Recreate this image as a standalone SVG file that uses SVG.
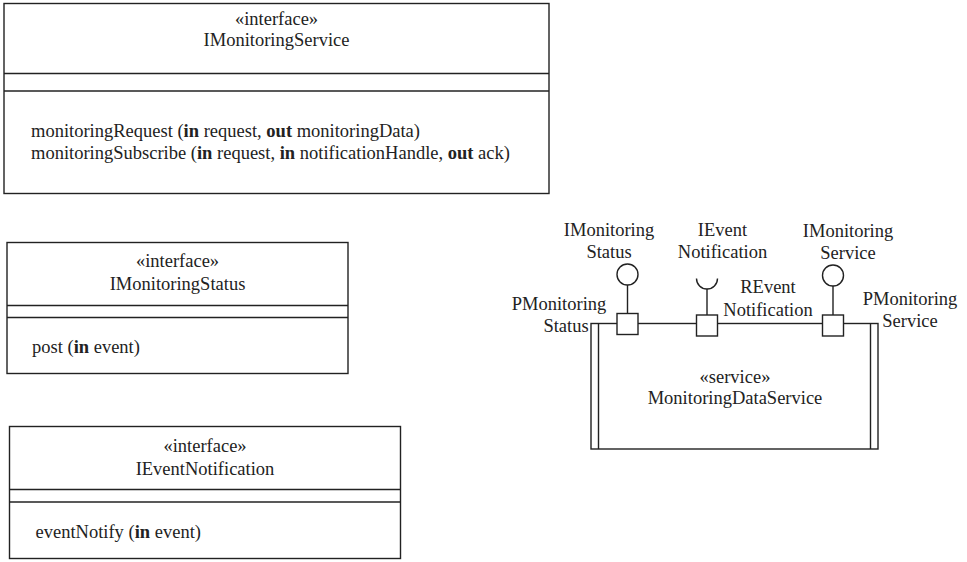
<svg xmlns="http://www.w3.org/2000/svg" width="967" height="562" viewBox="0 0 967 562">
<style>
.b{fill:#fff;stroke:#222;stroke-width:1.4}
.l{fill:none;stroke:#222;stroke-width:1.4}
text{font-family:"Liberation Serif","Times New Roman",serif;font-size:18.5px;fill:#222}
.c{text-anchor:middle}
</style>
<rect width="967" height="562" fill="#fff"/>
<g id="IMonitoringService">
<rect class="b" x="4" y="3.5" width="545" height="190"/>
<line class="l" x1="4" y1="73.5" x2="549" y2="73.5"/>
<line class="l" x1="4" y1="91" x2="549" y2="91"/>
<text class="c" x="276.5" y="25">«interface»</text>
<text class="c" x="276.5" y="46">IMonitoringService</text>
<text x="31" y="137">monitoringRequest (<tspan font-weight="bold">in</tspan> request, <tspan font-weight="bold">out</tspan> monitoringData)</text>
<text x="31" y="159">monitoringSubscribe (<tspan font-weight="bold">in</tspan> request, <tspan font-weight="bold">in</tspan> notificationHandle, <tspan font-weight="bold">out</tspan> ack)</text>
</g>
<g id="IMonitoringStatus">
<rect class="b" x="7" y="242.5" width="341" height="131"/>
<line class="l" x1="7" y1="305.5" x2="348" y2="305.5"/>
<line class="l" x1="7" y1="317.5" x2="348" y2="317.5"/>
<text class="c" x="177.5" y="267">«interface»</text>
<text class="c" x="177.5" y="290">IMonitoringStatus</text>
<text x="32" y="353">post (<tspan font-weight="bold">in</tspan> event)</text>
</g>
<g id="IEventNotification">
<rect class="b" x="9.5" y="426.5" width="391" height="132"/>
<line class="l" x1="9.5" y1="489.5" x2="400.5" y2="489.5"/>
<line class="l" x1="9.5" y1="502" x2="400.5" y2="502"/>
<text class="c" x="205" y="452">«interface»</text>
<text class="c" x="205" y="475">IEventNotification</text>
<text x="35.5" y="538">eventNotify (<tspan font-weight="bold">in</tspan> event)</text>
</g>
<g id="MonitoringDataService">
<rect class="b" x="591" y="323.5" width="287" height="125.5"/>
<line class="l" x1="598.5" y1="323.5" x2="598.5" y2="449"/>
<line class="l" x1="870.5" y1="323.5" x2="870.5" y2="449"/>
<text class="c" x="735" y="383">«service»</text>
<text class="c" x="735" y="404">MonitoringDataService</text>
</g>
<g id="connectors">
<line class="l" x1="627.5" y1="285" x2="627.5" y2="314"/>
<line class="l" x1="707" y1="289" x2="707" y2="315"/>
<line class="l" x1="833" y1="286" x2="833" y2="315"/>
</g>
<g id="PMonitoringStatus">
<rect class="b" x="617" y="313.5" width="21" height="21"/>
<circle class="b" cx="627.5" cy="274.5" r="10.5"/>
<text class="c" x="609" y="236">IMonitoring</text>
<text class="c" x="609" y="258">Status</text>
<text class="c" x="559" y="310">PMonitoring</text>
<text class="c" x="566" y="332">Status</text>
</g>
<g id="REventNotification">
<rect class="b" x="696.5" y="315" width="21" height="21"/>
<path class="l" d="M696.5,278.5 A10.5,10.5 0 0 0 717.5,278.5"/>
<text class="c" x="722.5" y="236">IEvent</text>
<text class="c" x="722.5" y="258">Notification</text>
<text class="c" x="768" y="293">REvent</text>
<text class="c" x="768" y="316">Notification</text>
</g>
<g id="PMonitoringService">
<rect class="b" x="822.5" y="315" width="21" height="21"/>
<circle class="b" cx="833" cy="275.5" r="10.5"/>
<text class="c" x="848" y="237">IMonitoring</text>
<text class="c" x="848" y="259">Service</text>
<text class="c" x="910" y="305">PMonitoring</text>
<text class="c" x="910" y="327">Service</text>
</g>
</svg>
